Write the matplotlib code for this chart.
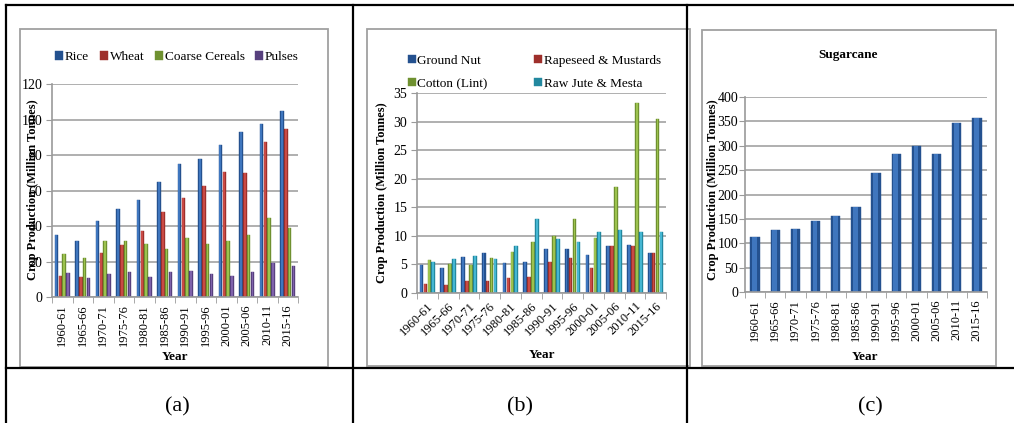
import numpy as np
import matplotlib.pyplot as plt
from matplotlib.lines import Line2D
from matplotlib.patches import Rectangle

plt.rcParams['font.family'] = ['Liberation Serif', 'DejaVu Serif']

years = ['1960-61', '1965-66', '1970-71', '1975-76', '1980-81', '1985-86',
         '1990-91', '1995-96', '2000-01', '2005-06', '2010-11', '2015-16']

# (a) food grains, million tonnes
rice = [35.0, 31.4, 42.9, 49.7, 54.6, 65.0, 74.9, 78.0, 85.7, 92.7, 97.2, 104.9]
wheat = [11.7, 11.1, 24.9, 29.4, 37.1, 48.0, 55.9, 62.7, 70.6, 70.1, 87.6, 94.4]
coarse_cereals = [24.3, 22.0, 31.4, 31.4, 29.9, 27.1, 33.3, 29.9, 31.4, 35.0, 44.6, 38.8]
pulses = [13.6, 10.5, 12.8, 14.1, 11.1, 14.1, 14.7, 12.8, 11.7, 14.1, 19.0, 17.3]

# (b) oilseeds and fibres
ground_nut = [4.9, 4.35, 6.3, 7.0, 5.3, 5.45, 7.75, 7.75, 6.7, 8.2, 8.45, 7.0]
rapeseed = [1.5, 1.4, 2.1, 2.1, 2.6, 2.8, 5.4, 6.1, 4.35, 8.2, 8.2, 7.0]
cotton = [5.75, 5.05, 4.95, 6.1, 7.2, 8.95, 10.0, 13.0, 9.6, 18.6, 33.2, 30.4]
jute = [5.4, 6.0, 6.5, 6.0, 8.2, 13.0, 9.5, 8.95, 10.7, 11.05, 10.7, 10.7]

# (c) sugarcane
sugarcane = [112.9, 127.2, 129.3, 145.0, 156.0, 174.4, 244.9, 283.0, 299.5, 283.0, 346.8, 357.0]

W, H = 1014, 423
fig = plt.figure(figsize=(W / 100, H / 100), dpi=100)

# (edge shade, middle shade) to get the shaded excel look
BLUE = ('#24518f', '#3f76be')
RED = ('#9e2f2b', '#c94a45')
GREEN = ('#6f9130', '#9cc24e')
PURPLE = ('#57407e', '#7f62ab')
CYAN = ('#22889f', '#45b6d2')
GRID = '#9a9a9a'


def px_axes(x0, y0, x1, y1):
    return fig.add_axes([x0 / W, 1 - y1 / H, (x1 - x0) / W, (y1 - y0) / H])


def fx(x):
    return x / W


def fy(y):
    return 1 - y / H


def style_axes(ax, ymax, ystep, rot):
    x = np.arange(len(years))
    ax.set_xlim(-0.5, len(years) - 0.5)
    ax.set_ylim(0, ymax)
    ax.set_yticks(np.arange(0, ymax + 1, ystep))
    ax.set_xticks(x)
    ax.set_xticks(np.arange(-0.5, len(years)), minor=True)
    if rot == 90:
        ax.set_xticklabels(years, rotation=90, fontsize=9)
    else:
        ax.set_xticklabels(years, rotation=45, ha='right', rotation_mode='anchor', fontsize=9)
    ax.tick_params(axis='x', which='major', length=0, pad=5)
    ax.tick_params(axis='x', which='minor', length=4, color=GRID, direction='out')
    ax.tick_params(axis='y', length=4, color=GRID, labelsize=10, pad=3)
    for s in ['top', 'right']:
        ax.spines[s].set_visible(False)
    for s in ['left', 'bottom']:
        ax.spines[s].set_color(GRID)
        ax.spines[s].set_linewidth(1.2)
    ax.grid(axis='y', color=GRID, linewidth=1.1)
    ax.set_axisbelow(True)
    ax.patch.set_alpha(0)


def shaded_bar(ax, x, vals, width, col, label=None):
    b = ax.bar(x, vals, width, color=col[0], edgecolor=col[0], linewidth=0.3, label=label)
    ax.bar(x - width * 0.05, vals, width * 0.5, color=col[1], linewidth=0)
    return b


def grouped(ax, series, colors, labels, width):
    x = np.arange(len(years))
    n = len(series)
    handles = []
    for i, (vals, c, lab) in enumerate(zip(series, colors, labels)):
        off = (i - (n - 1) / 2) * width
        handles.append(shaded_bar(ax, x + off, vals, width * 0.92, c, lab))
    return handles


# table lines
for (xa, ya, xb, yb) in [(6, 5, 1013, 5), (6, 368, 1013, 368), (6, 5, 6, 423),
                         (353, 5, 353, 423), (687, 5, 687, 423)]:
    fig.add_artist(Line2D([fx(xa), fx(xb)], [fy(ya), fy(yb)], color='black', linewidth=1.6))

# chart frames
for (xa, ya, xb, yb) in [(20, 29, 328, 367), (367, 29, 690, 366), (702, 30, 996, 366)]:
    fig.add_artist(Rectangle((fx(xa), fy(yb)), fx(xb - xa), (yb - ya) / H,
                             fill=False, edgecolor='#a0a0a0', linewidth=1.3))

# (a)
ax1 = px_axes(52, 84, 298, 297)
h1 = grouped(ax1, [rice, wheat, coarse_cereals, pulses], [BLUE, RED, GREEN, PURPLE],
             ['Rice', 'Wheat', 'Coarse Cereals', 'Pulses'], 0.19)
style_axes(ax1, 120, 20, 90)
ax1.legend(handles=h1, loc='center', bbox_to_anchor=(fx(177), fy(57)),
           bbox_transform=fig.transFigure, ncol=4, frameon=False, fontsize=9.5,
           handlelength=0.6, handleheight=0.6, handletextpad=0.15, columnspacing=0.8,
           borderpad=0)
fig.text(fx(33), fy(190), 'Crop Production (Million Tonnes)', rotation=90,
         ha='center', va='center', fontsize=9, fontweight='bold')
fig.text(fx(175), fy(357), 'Year', ha='center', va='center', fontsize=9.5, fontweight='bold')
fig.text(fx(177), fy(407), '(a)', ha='center', va='center', fontsize=16)

# (b)
ax2 = px_axes(417, 93, 666, 293)
h2 = grouped(ax2, [ground_nut, rapeseed, cotton, jute], [BLUE, RED, GREEN, CYAN],
             ['Ground Nut', 'Rapeseed & Mustards', 'Cotton (Lint)', 'Raw Jute & Mesta'], 0.19)
style_axes(ax2, 35, 5, 45)
ax2.legend(handles=[h2[0], h2[2], h2[1], h2[3]],
           labels=['Ground Nut', 'Cotton (Lint)', 'Rapeseed & Mustards', 'Raw Jute & Mesta'],
           loc='upper left', bbox_to_anchor=(fx(401), fy(48)),
           bbox_transform=fig.transFigure, ncol=2, frameon=False, fontsize=9.5,
           handlelength=0.6, handleheight=0.6, handletextpad=0.15, columnspacing=3.5,
           labelspacing=0.85, borderpad=0)
fig.text(fx(382), fy(193), 'Crop Production (Million Tonnes)', rotation=90,
         ha='center', va='center', fontsize=9, fontweight='bold')
fig.text(fx(542), fy(355), 'Year', ha='center', va='center', fontsize=9.5, fontweight='bold')
fig.text(fx(520), fy(407), '(b)', ha='center', va='center', fontsize=16)

# (c)
ax3 = px_axes(745, 97, 987, 292)
shaded_bar(ax3, np.arange(len(years)), sugarcane, 0.46, BLUE)
style_axes(ax3, 400, 50, 90)
ax3.tick_params(axis='y', pad=1)
fig.text(fx(848), fy(55), 'Sugarcane', ha='center', va='center', fontsize=9.5, fontweight='bold')
fig.text(fx(713), fy(190), 'Crop Production (Million Tonnes)', rotation=90,
         ha='center', va='center', fontsize=9, fontweight='bold')
fig.text(fx(865), fy(357), 'Year', ha='center', va='center', fontsize=9.5, fontweight='bold')
fig.text(fx(870), fy(407), '(c)', ha='center', va='center', fontsize=16)

fig.savefig('out.png', dpi=100)
